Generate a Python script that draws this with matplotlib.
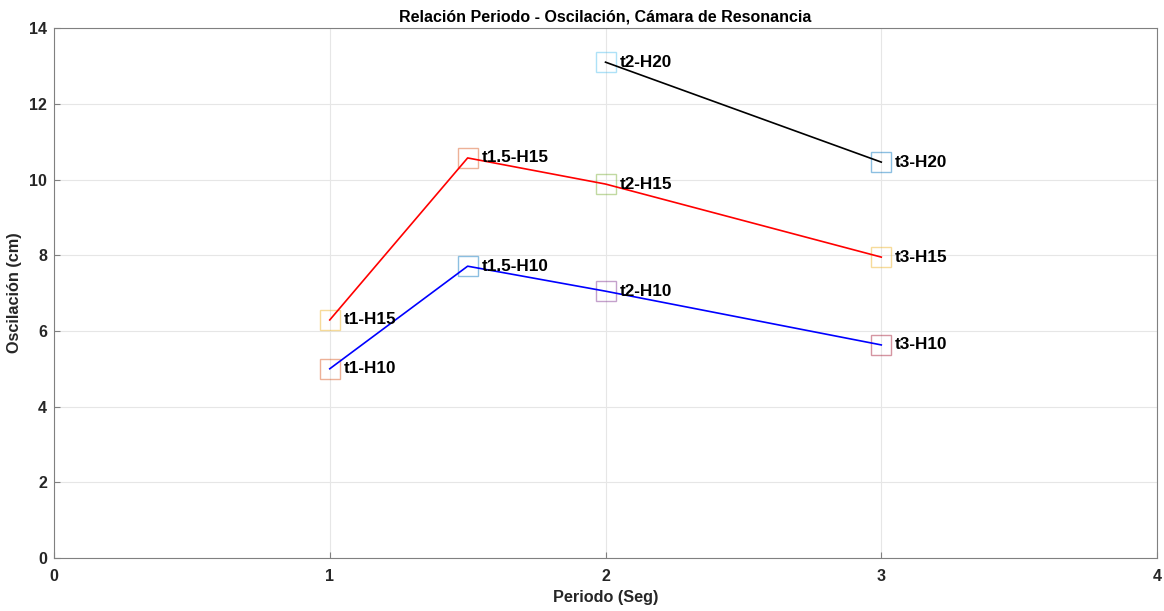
import matplotlib
matplotlib.use("Agg")
import matplotlib.pyplot as plt

plt.rcParams['font.family'] = ['Liberation Sans', 'DejaVu Sans']

# Data
periodo_h10 = [1.0, 1.5, 2.0, 3.0]
osc_h10 = [5.0, 7.71, 7.05, 5.63]
periodo_h15 = [1.0, 1.5, 2.0, 3.0]
osc_h15 = [6.29, 10.57, 9.88, 7.95]
periodo_h20 = [2.0, 3.0]
osc_h20 = [13.1, 10.46]

labels_h10 = ["t1-H10", "t1.5-H10", "t2-H10", "t3-H10"]
labels_h15 = ["t1-H15", "t1.5-H15", "t2-H15", "t3-H15"]
labels_h20 = ["t2-H20", "t3-H20"]

# marker colours (MATLAB default colour order)
mc_h10 = ["#D95319", "#0072BD", "#7E2F8E", "#A2142F"]
mc_h15 = ["#EDB120", "#D95319", "#77AC30", "#EDB120"]
mc_h20 = ["#4DBEEE", "#0072BD"]

fig = plt.figure(figsize=(11.64, 6.11), dpi=100)
ax = fig.add_axes([0.0464, 0.0867, 0.9476, 0.8673])

ax.plot(periodo_h10, osc_h10, color='b', lw=1.2, zorder=3)
ax.plot(periodo_h15, osc_h15, color='r', lw=1.2, zorder=3)
ax.plot(periodo_h20, osc_h20, color='k', lw=1.2, zorder=3)

for xs, ys, labs, cols in [(periodo_h10, osc_h10, labels_h10, mc_h10),
                            (periodo_h15, osc_h15, labels_h15, mc_h15),
                            (periodo_h20, osc_h20, labels_h20, mc_h20)]:
    for x, y, lab, c in zip(xs, ys, labs, cols):
        ax.plot([x], [y], marker='s', ms=14.5, mfc='none', mec=c, mew=1.0,
                alpha=0.45, zorder=2)
        ax.text(x + 0.05, y, lab, fontsize=12.3, fontweight='bold',
                va='center', ha='left', color='black', zorder=4)

ax.set_xlim(0, 4)
ax.set_ylim(0, 14)
ax.set_xticks([0, 1, 2, 3, 4])
ax.set_yticks([0, 2, 4, 6, 8, 10, 12, 14])
ax.grid(True, color='#e6e6e6', lw=0.8)
ax.set_axisbelow(True)
for s in ax.spines.values():
    s.set_color('#808080')
    s.set_linewidth(0.8)
ax.tick_params(direction='in', length=4, color='#808080', labelcolor='#262626',
               labelsize=11.5, top=False, right=False)
ax.tick_params(axis='x', pad=8)
ax.tick_params(axis='y', pad=5)
for lbl in ax.get_xticklabels() + ax.get_yticklabels():
    lbl.set_fontweight('bold')

ax.set_xlabel("Periodo (Seg)", fontsize=11.7, fontweight='bold', color='#262626', labelpad=4)
ax.set_ylabel("Oscilación (cm)", fontsize=11.7, fontweight='bold', color='#262626', labelpad=5)
ax.set_title("Relación Periodo - Oscilación, Cámara de Resonancia", fontsize=11.5,
             fontweight='bold', pad=5)

fig.savefig("out.png", dpi=100)
